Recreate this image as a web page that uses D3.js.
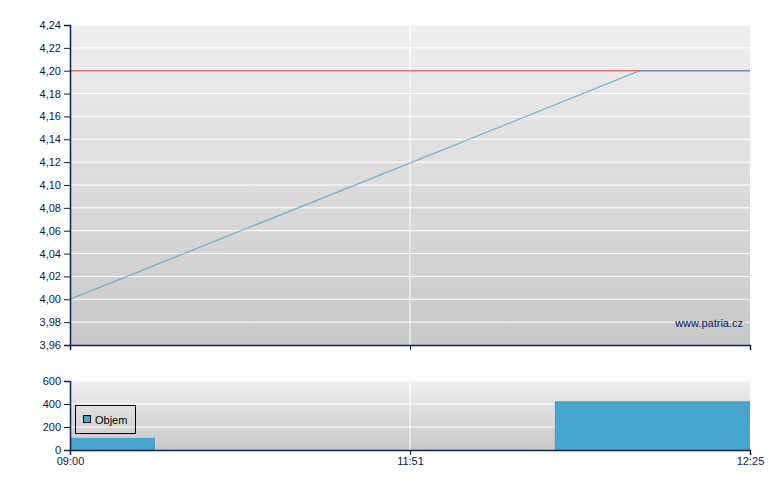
<!DOCTYPE html>
<html><head><meta charset="utf-8">
<script src="https://cdn.jsdelivr.net/npm/d3@7"></script>
<style>body{margin:0;background:#fff}svg{display:block}text{font-family:"Liberation Sans",Arial,sans-serif;font-size:11px;fill:#0a2050}</style>
</head><body><svg id="c" width="780" height="490"></svg>
<script>
// data
const priceX = [0, 0.838, 1];           // position within session
const priceY = [4.00, 4.20, 4.20];
const refPrice = 4.20;
const priceTicks = [3.96,3.98,4.00,4.02,4.04,4.06,4.08,4.10,4.12,4.14,4.16,4.18,4.20,4.22,4.24];
const volStart = [0, 0.713];
const volEnd = [0.125, 1];
const volValues = [105, 425];
const volTicks = [0,200,400,600];
const timePos = [0, 0.5, 1];
const timeLabels = ["09:00","11:51","12:25"];

const svg = d3.select("#c");
const navy = "#0a2050";
const L = 70, R = 750;
const x = d3.scaleLinear().domain([0,1]).range([L,R]);
const y = d3.scaleLinear().domain([3.96,4.24]).range([345,25]);
const yv = d3.scaleLinear().domain([0,600]).range([450,381]);

const defs = svg.append("defs");
const g1 = defs.append("linearGradient").attr("id","bg").attr("x1",0).attr("x2",0).attr("y1",0).attr("y2",1);
g1.append("stop").attr("offset","0%").attr("stop-color","#efefef");
g1.append("stop").attr("offset","100%").attr("stop-color","#c8c8c8");

// main panel
svg.append("rect").attr("x",L).attr("y",25).attr("width",R-L).attr("height",320).attr("fill","url(#bg)");
svg.append("g").selectAll("line").data(priceTicks.slice(1)).join("line")
  .attr("x1",L).attr("x2",R).attr("y1",d=>y(d)).attr("y2",d=>y(d)).attr("stroke","#fff").attr("stroke-width",1);
svg.append("line").attr("x1",x(0.5)).attr("x2",x(0.5)).attr("y1",25).attr("y2",345).attr("stroke","#fff");

svg.append("line").attr("x1",L).attr("x2",R).attr("y1",y(refPrice)).attr("y2",y(refPrice))
  .attr("stroke","#e07070").attr("stroke-width",1.5);
const pts = priceX.map((p,i)=>[p,priceY[i]]);
svg.append("path").datum(pts).attr("d",d3.line().x(d=>x(d[0])).y(d=>y(d[1])))
  .attr("fill","none").attr("stroke","#4a9fd0").attr("stroke-width",1.2).attr("stroke-opacity",0.75);

svg.append("text").attr("x",743).attr("y",327).attr("text-anchor","end").text("www.patria.cz");

svg.append("g").attr("transform",`translate(${L},0)`)
  .call(d3.axisLeft(y).tickValues(priceTicks).tickSize(6).tickPadding(3).tickFormat(d=>d3.format(".2f")(d).replace(".",",")));
svg.append("g").attr("transform","translate(0,345)")
  .call(d3.axisBottom(x).tickValues(timePos).tickSize(5).tickFormat(""));

// volume panel
svg.append("rect").attr("x",L).attr("y",381).attr("width",R-L).attr("height",69).attr("fill","url(#bg)");
svg.append("line").attr("x1",L).attr("x2",R).attr("y1",381.5).attr("y2",381.5).attr("stroke","#f6f6f6");
svg.append("g").selectAll("line").data(volTicks.slice(1,3)).join("line")
  .attr("x1",L).attr("x2",R).attr("y1",d=>yv(d)).attr("y2",d=>yv(d)).attr("stroke","#fff");
svg.append("line").attr("x1",x(0.5)).attr("x2",x(0.5)).attr("y1",381).attr("y2",450).attr("stroke","#fff");
svg.append("g").selectAll("rect").data(volValues).join("rect")
  .attr("x",(d,i)=>x(volStart[i])).attr("width",(d,i)=>x(volEnd[i])-x(volStart[i]))
  .attr("y",d=>yv(d)).attr("height",d=>450-yv(d)).attr("fill","#46a5cf");

svg.append("g").attr("transform",`translate(${L},0)`)
  .call(d3.axisLeft(yv).tickValues(volTicks).tickSize(6).tickPadding(3).tickFormat(d3.format("d")));
svg.append("g").attr("transform","translate(0,450)")
  .call(d3.axisBottom(x).tickValues(timePos).tickSize(5).tickPadding(2).tickFormat((d,i)=>timeLabels[i]));

// legend
svg.append("rect").attr("x",75.5).attr("y",405.5).attr("width",60).attr("height",28).attr("fill","none").attr("stroke","#000");
svg.append("rect").attr("x",83.5).attr("y",415.5).attr("width",7).attr("height",7).attr("fill","#46a5cf").attr("stroke","#000");
svg.append("text").attr("x",95).attr("y",424).text("Objem").style("fill","#000");

svg.selectAll(".domain").attr("stroke",navy).attr("stroke-width",1.5);
svg.selectAll(".tick line").attr("stroke",navy);
svg.selectAll(".tick text").style("fill",navy).style("font-size","11px").style("font-family",'"Liberation Sans",Arial,sans-serif');
</script></body></html>
